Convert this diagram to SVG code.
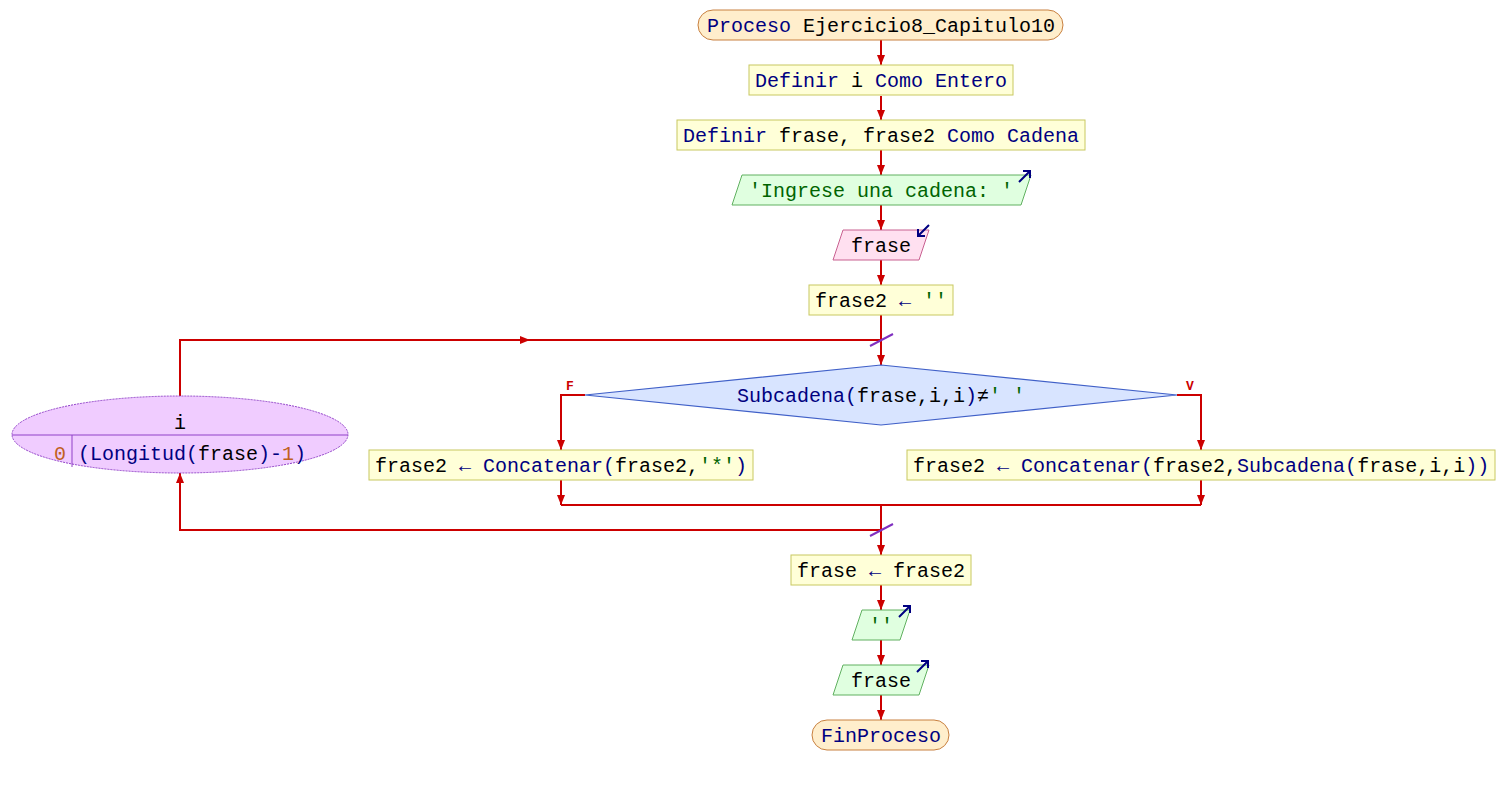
<svg xmlns="http://www.w3.org/2000/svg" width="1505" height="785" viewBox="0 0 1505 785">
<defs>
<marker id="ah" viewBox="0 0 10 8" refX="10" refY="4" markerWidth="10" markerHeight="8" markerUnits="userSpaceOnUse" orient="auto"><path d="M0,0 L10,4 L0,8 Z" fill="#cc0000"/></marker>
</defs>
<style>
text{font-family:"Liberation Mono","DejaVu Sans Mono",monospace;font-size:20px;fill:#000}
.kw{fill:#000080}.st{fill:#006400}.nm{fill:#c06020}
.proc{fill:#ffffd8;stroke:#c8c860;stroke-width:1}
.term{fill:#ffeecc;stroke:#c88040;stroke-width:1}
.out{fill:#e0ffe0;stroke:#60b060;stroke-width:1}
.inp{fill:#ffe0f0;stroke:#c86090;stroke-width:1}
.dec{fill:#d8e4ff;stroke:#4060c8;stroke-width:1.2}
.loop{fill:#f0ccff;stroke:#9040c8;stroke-width:1;stroke-dasharray:2 1}
.ln{fill:none;stroke:#cc0000;stroke-width:2}
.sl{stroke:#8030c0;stroke-width:2}
.ic{stroke:#000080;stroke-width:2;fill:none}
.lb{fill:#cc0000;font-size:13px;font-weight:bold}
</style>
<g id="connectors">
<path class="ln" d="M881,40 V65" marker-end="url(#ah)"/>
<path class="ln" d="M881,96 V120" marker-end="url(#ah)"/>
<path class="ln" d="M881,150 V175" marker-end="url(#ah)"/>
<path class="ln" d="M881,205 V230" marker-end="url(#ah)"/>
<path class="ln" d="M881,260 V285" marker-end="url(#ah)"/>
<path class="ln" d="M881,315 V365" marker-end="url(#ah)"/>
<path class="ln" d="M180,396 V340 H881"/>
<path class="ln" d="M520,340 H530" marker-end="url(#ah)"/>
<path class="ln" d="M585,395 H561 V450" marker-end="url(#ah)"/>
<path class="ln" d="M1177,395 H1201 V450" marker-end="url(#ah)"/>
<path class="ln" d="M561,480 V505" marker-end="url(#ah)"/>
<path class="ln" d="M1201,480 V505" marker-end="url(#ah)"/>
<path class="ln" d="M561,505 H1201"/>
<path class="ln" d="M881,505 V555" marker-end="url(#ah)"/>
<path class="ln" d="M881,530 H180 V473" marker-end="url(#ah)"/>
<path class="ln" d="M881,585 V610" marker-end="url(#ah)"/>
<path class="ln" d="M881,640 V665" marker-end="url(#ah)"/>
<path class="ln" d="M881,695 V720" marker-end="url(#ah)"/>
<line class="sl" x1="870" y1="346" x2="893" y2="334"/>
<line class="sl" x1="870" y1="536" x2="893" y2="524"/>
<text class="lb" x="566" y="390">F</text>
<text class="lb" x="1186" y="390">V</text>
</g>
<g id="start">
<rect class="term" x="698" y="10" width="365" height="30" rx="15"/>
<text x="881" y="32" text-anchor="middle"><tspan class="kw">Proceso</tspan> Ejercicio8_Capitulo10</text>
</g>
<g id="def1">
<rect class="proc" x="749" y="65" width="264" height="30"/>
<text x="881" y="87" text-anchor="middle"><tspan class="kw">Definir</tspan> i <tspan class="kw">Como Entero</tspan></text>
</g>
<g id="def2">
<rect class="proc" x="677" y="120" width="408" height="30"/>
<text x="881" y="142" text-anchor="middle"><tspan class="kw">Definir</tspan> frase, frase2 <tspan class="kw">Como Cadena</tspan></text>
</g>
<g id="out1">
<polygon class="out" points="742,175 1031,175 1021,205 732,205"/>
<text x="881" y="197" text-anchor="middle" class="st">'Ingrese una cadena: '</text>
<path class="ic" d="M1019,182 L1030,171 M1023,171 H1030 V178"/>
</g>
<g id="in1">
<polygon class="inp" points="843,230 929,230 919,260 833,260"/>
<text x="881" y="252" text-anchor="middle">frase</text>
<path class="ic" d="M929,225 L918,236 M918,229 V236 H925"/>
</g>
<g id="asg1">
<rect class="proc" x="809" y="285" width="144" height="30"/>
<text x="881" y="307" text-anchor="middle">frase2 <tspan class="kw">←</tspan> <tspan class="st">''</tspan></text>
</g>
<g id="loop">
<ellipse class="loop" cx="180" cy="434.5" rx="168" ry="38.5"/>
<line x1="12" y1="435" x2="348" y2="435" stroke="#9040c8" stroke-width="1"/>
<line x1="72" y1="435" x2="72" y2="467" stroke="#9040c8" stroke-width="1"/>
<text x="180" y="429" text-anchor="middle">i</text>
<text x="66" y="460" text-anchor="end" class="nm">0</text>
<text x="78" y="460"><tspan class="kw">(Longitud(</tspan>frase<tspan class="kw">)-</tspan><tspan class="nm">1</tspan><tspan class="kw">)</tspan></text>
</g>
<g id="cond">
<polygon class="dec" points="881,365 1177,395 881,425 585,395"/>
<text x="881" y="402" text-anchor="middle"><tspan class="kw">Subcadena(</tspan>frase,i,i<tspan class="kw">)</tspan>≠<tspan class="st">' '</tspan></text>
</g>
<g id="asgF">
<rect class="proc" x="369" y="450" width="384" height="30"/>
<text x="375" y="472">frase2 <tspan class="kw">←</tspan> <tspan class="kw">Concatenar(</tspan>frase2,<tspan class="st">'*'</tspan><tspan class="kw">)</tspan></text>
</g>
<g id="asgV">
<rect class="proc" x="907" y="450" width="588" height="30"/>
<text x="913" y="472">frase2 <tspan class="kw">←</tspan> <tspan class="kw">Concatenar(</tspan>frase2,<tspan class="kw">Subcadena(</tspan>frase,i,i<tspan class="kw">))</tspan></text>
</g>
<g id="asg2">
<rect class="proc" x="791" y="555" width="180" height="30"/>
<text x="881" y="577" text-anchor="middle">frase <tspan class="kw">←</tspan> frase2</text>
</g>
<g id="out2">
<polygon class="out" points="862,610 910,610 900,640 852,640"/>
<text x="881" y="632" text-anchor="middle" class="st">''</text>
<path class="ic" d="M899,617 L910,606 M903,606 H910 V613"/>
</g>
<g id="out3">
<polygon class="out" points="843,665 929,665 919,695 833,695"/>
<text x="881" y="687" text-anchor="middle">frase</text>
<path class="ic" d="M917,672 L928,661 M921,661 H928 V668"/>
</g>
<g id="end">
<rect class="term" x="812" y="720" width="137" height="30" rx="15"/>
<text x="881" y="742" text-anchor="middle" class="kw">FinProceso</text>
</g>
</svg>
